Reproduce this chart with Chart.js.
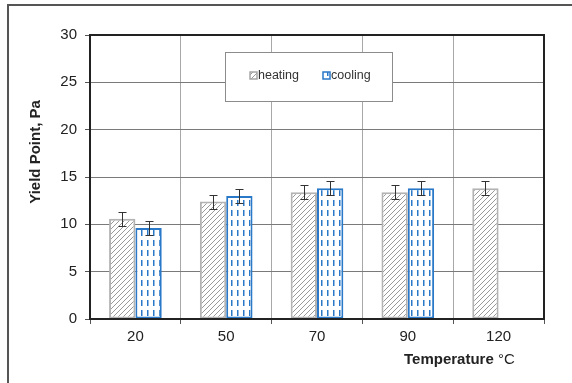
<!DOCTYPE html>
<html>
<head>
<meta charset="utf-8">
<script src="https://cdn.jsdelivr.net/npm/chart.js@4"></script>
<style>
  html, body { margin: 0; padding: 0; background: #fff; }
  #wrap { width: 572px; height: 383px; position: relative; }
</style>
</head>
<body>
<div id="wrap"><canvas id="chart" width="572" height="383"></canvas></div>
<script>
var categories = ['20', '50', '70', '90', '120'];
var heating = [10.6, 12.4, 13.4, 13.4, 13.8];
var cooling = [9.6, 13.0, 13.8, 13.8, null];
var heatingErr = [0.75, 0.75, 0.75, 0.75, 0.75];
var coolingErr = [0.75, 0.75, 0.75, 0.75, null];
var yTicks = [0, 5, 10, 15, 20, 25, 30];

var FONT = '"Liberation Sans", Arial, sans-serif';

// diagonal gray hatch for heating
var makeHatch = function () {
    var c = document.createElement('canvas');
    c.width = 5; c.height = 5;
    var g = c.getContext('2d');
    g.fillStyle = '#fff';
    g.fillRect(0, 0, 5, 5);
    g.strokeStyle = '#999';
    g.lineWidth = 1;
    g.beginPath();
    g.moveTo(0, 5); g.lineTo(5, 0);
    g.moveTo(-1, 1); g.lineTo(1, -1);
    g.moveTo(4, 6); g.lineTo(6, 4);
    g.stroke();
    return g.createPattern(c, 'repeat');
}

// blue dashed vertical lines for cooling
var makeDash = function () {
    var c = document.createElement('canvas');
    c.width = 6; c.height = 10;
    var g = c.getContext('2d');
    g.fillStyle = '#fff';
    g.fillRect(0, 0, 6, 10);
    g.fillStyle = '#2a78c8';
    g.fillRect(3, 0, 1.5, 6);
    return g.createPattern(c, 'repeat');
}

var hatch = makeHatch();
var dash = makeDash();

var errorBars = {
    id: 'errorBars',
    afterDatasetsDraw: function (chart) {
        var ctx = chart.ctx;
        var errs = [heatingErr, coolingErr];
        var y = chart.scales.y;
        ctx.save();
        ctx.strokeStyle = '#333';
        ctx.lineWidth = 1;
        chart.data.datasets.forEach(function (ds, di) {
            var meta = chart.getDatasetMeta(di);
            meta.data.forEach(function (bar, i) {
                var v = ds.data[i];
                var e = errs[di][i];
                if (v == null || e == null) return;
                var x = Math.round(bar.x) + 0.5;
                var y1 = Math.round(y.getPixelForValue(v + e)) + 0.5;
                var y2 = Math.round(y.getPixelForValue(v - e)) + 0.5;
                ctx.beginPath();
                ctx.moveTo(x, y1); ctx.lineTo(x, y2);
                ctx.moveTo(x - 4, y1); ctx.lineTo(x + 4, y1);
                ctx.moveTo(x - 4, y2); ctx.lineTo(x + 4, y2);
                ctx.stroke();
            });
        });
        ctx.restore();
    }
};

var decor = {
    id: 'decor',
    beforeDraw: function (chart) {
        var ctx = chart.ctx;
        ctx.save();
        ctx.fillStyle = '#fff';
        ctx.fillRect(0, 0, chart.width, chart.height);
        // outer frame (only top and left visible)
        ctx.strokeStyle = '#555';
        ctx.lineWidth = 2;
        ctx.beginPath();
        ctx.moveTo(8, 383); ctx.lineTo(8, 5); ctx.lineTo(572, 5);
        ctx.stroke();
        ctx.restore();
    },
    afterDraw: function (chart) {
        var ctx = chart.ctx;
        var a = chart.chartArea;
        ctx.save();
        // plot border
        ctx.strokeStyle = '#222';
        ctx.lineWidth = 2;
        ctx.strokeRect(a.left, a.top, a.right - a.left, a.bottom - a.top);

        // legend box
        ctx.fillStyle = '#fff';
        ctx.fillRect(225, 52, 167, 49);
        ctx.strokeStyle = '#8c8c8c';
        ctx.lineWidth = 1;
        ctx.strokeRect(225.5, 52.5, 167, 49);
        var items = [
            { x: 250, fill: hatch, border: '#a6a6a6', label: chart.data.datasets[0].label },
            { x: 323, fill: dash, border: '#2a78c8', label: chart.data.datasets[1].label }
        ];
        ctx.font = '12.5px ' + FONT;
        ctx.textBaseline = 'middle';
        items.forEach(function (it) {
            ctx.fillStyle = it.fill;
            ctx.fillRect(it.x, 72, 7, 7);
            ctx.strokeStyle = it.border;
            ctx.lineWidth = 1.5;
            ctx.strokeRect(it.x, 72, 7, 7);
            ctx.fillStyle = '#333';
            ctx.fillText(it.label, it.x + 8, 76);
        });

        // axis titles
        ctx.fillStyle = '#222';
        ctx.font = 'bold 15px ' + FONT;
        ctx.save();
        ctx.translate(36, 152);
        ctx.rotate(-Math.PI / 2);
        ctx.textAlign = 'center';
        ctx.fillText('Yield Point, Pa', 0, 0);
        ctx.restore();

        ctx.textAlign = 'left';
        ctx.textBaseline = 'middle';
        ctx.fillText('Temperature', 404, 360);
        var w = ctx.measureText('Temperature ').width;
        ctx.font = '15px ' + FONT;
        ctx.fillText('°C', 404 + w, 360);
        ctx.restore();
    }
};

var ctx = document.getElementById('chart').getContext('2d');
new Chart(ctx, {
    type: 'bar',
    data: {
        labels: categories,
        datasets: [{
            label: 'heating',
            data: heating,
            backgroundColor: hatch,
            borderColor: '#b3b3b3',
            borderWidth: 2,
            borderSkipped: false
        }, {
            label: 'cooling',
            data: cooling,
            backgroundColor: dash,
            borderColor: '#2a78c8',
            borderWidth: 2,
            borderSkipped: false
        }]
    },
    options: {
        responsive: false,
        animation: false,
        datasets: { bar: { categoryPercentage: 0.58, barPercentage: 1.0 } },
        layout: { padding: { top: 35, right: 28, left: 0, bottom: 0 } },
        plugins: {
            legend: { display: false },
            tooltip: { enabled: false }
        },
        scales: {
            x: {
                afterFit: function (s) { s.height = 64; },
                grid: { color: '#a8a8a8', lineWidth: 1, offset: true, tickLength: 5, tickColor: '#555' },
                border: { display: false },
                ticks: { color: '#222', font: { family: FONT, size: 15 }, padding: 4 }
            },
            y: {
                min: 0,
                max: 30,
                afterFit: function (s) { s.width = 90; },
                afterBuildTicks: function (s) { s.ticks = yTicks.map(function (v) { return { value: v }; }); },
                grid: { color: '#7a7a7a', lineWidth: 1, tickLength: 5, tickColor: '#555' },
                border: { display: false },
                ticks: { color: '#222', font: { family: FONT, size: 15 }, padding: 8 }
            }
        }
    },
    plugins: [decor, errorBars]
});
</script>
</body>
</html>
